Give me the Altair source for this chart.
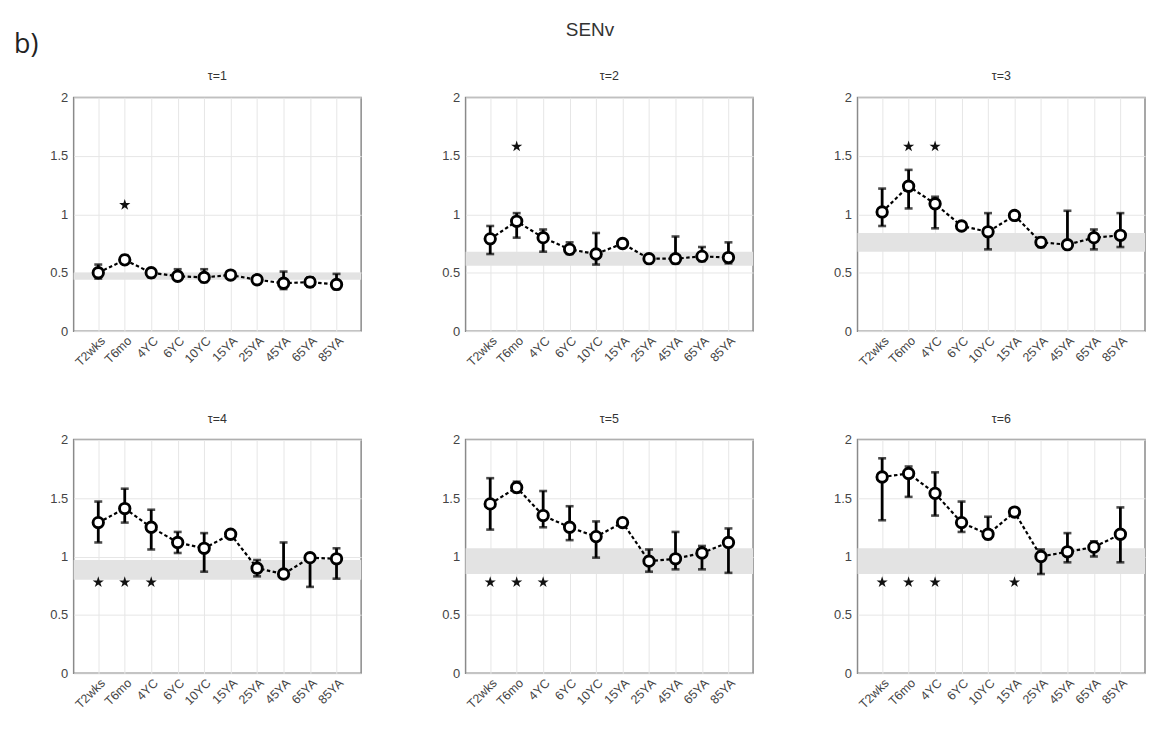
import altair as alt
import pandas as pd

groups = ["T2wks", "T6mo", "4YC", "6YC", "10YC", "15YA", "25YA", "45YA", "65YA", "85YA"]

mean_t1 = [0.50, 0.61, 0.50, 0.47, 0.46, 0.48, 0.44, 0.41, 0.42, 0.40]
high_t1 = [0.57, 0.65, 0.53, 0.53, 0.53, 0.50, 0.45, 0.51, 0.46, 0.49]
low_t1 = [0.45, 0.58, 0.46, 0.44, 0.42, 0.46, 0.42, 0.36, 0.38, 0.36]
band_t1 = [0.44, 0.50]
stars_t1 = ["T6mo"]
star_y_t1 = 1.08

mean_t2 = [0.79, 0.94, 0.80, 0.70, 0.66, 0.75, 0.62, 0.62, 0.64, 0.63]
high_t2 = [0.90, 1.01, 0.87, 0.76, 0.84, 0.77, 0.64, 0.81, 0.72, 0.76]
low_t2 = [0.66, 0.80, 0.68, 0.66, 0.57, 0.73, 0.60, 0.58, 0.60, 0.58]
band_t2 = [0.56, 0.68]
stars_t2 = ["T6mo"]
star_y_t2 = 1.58

mean_t3 = [1.02, 1.24, 1.09, 0.90, 0.85, 0.99, 0.76, 0.74, 0.80, 0.82]
high_t3 = [1.22, 1.38, 1.15, 0.93, 1.01, 1.01, 0.80, 1.03, 0.87, 1.01]
low_t3 = [0.90, 1.05, 0.88, 0.88, 0.70, 0.97, 0.72, 0.72, 0.70, 0.72]
band_t3 = [0.68, 0.84]
stars_t3 = ["T6mo", "4YC"]
star_y_t3 = 1.58

mean_t4 = [1.29, 1.41, 1.25, 1.12, 1.07, 1.19, 0.90, 0.85, 0.99, 0.98]
high_t4 = [1.47, 1.58, 1.40, 1.21, 1.20, 1.21, 0.97, 1.12, 0.99, 1.07]
low_t4 = [1.12, 1.29, 1.06, 1.03, 0.87, 1.17, 0.83, 0.83, 0.74, 0.81]
band_t4 = [0.80, 0.97]
stars_t4 = ["T2wks", "T6mo", "4YC"]
star_y_t4 = 0.78

mean_t5 = [1.45, 1.59, 1.35, 1.25, 1.17, 1.29, 0.96, 0.98, 1.03, 1.12]
high_t5 = [1.67, 1.64, 1.56, 1.43, 1.30, 1.31, 1.06, 1.21, 1.09, 1.24]
low_t5 = [1.23, 1.55, 1.25, 1.14, 0.99, 1.27, 0.87, 0.89, 0.89, 0.86]
band_t5 = [0.85, 1.07]
stars_t5 = ["T2wks", "T6mo", "4YC"]
star_y_t5 = 0.78

mean_t6 = [1.68, 1.71, 1.54, 1.29, 1.19, 1.38, 1.00, 1.04, 1.08, 1.19]
high_t6 = [1.84, 1.77, 1.72, 1.47, 1.34, 1.40, 1.06, 1.20, 1.13, 1.42]
low_t6 = [1.31, 1.51, 1.35, 1.21, 1.15, 1.36, 0.85, 0.95, 1.00, 0.95]
band_t6 = [0.85, 1.07]
stars_t6 = ["T2wks", "T6mo", "4YC", "15YA"]
star_y_t6 = 0.78

panels = [
    (1, mean_t1, high_t1, low_t1, band_t1, stars_t1, star_y_t1),
    (2, mean_t2, high_t2, low_t2, band_t2, stars_t2, star_y_t2),
    (3, mean_t3, high_t3, low_t3, band_t3, stars_t3, star_y_t3),
    (4, mean_t4, high_t4, low_t4, band_t4, stars_t4, star_y_t4),
    (5, mean_t5, high_t5, low_t5, band_t5, stars_t5, star_y_t5),
    (6, mean_t6, high_t6, low_t6, band_t6, stars_t6, star_y_t6),
]

W = 289
H = 235
STAR = "M0,-1L0.2245,-0.309L0.951,-0.309L0.363,0.118L0.588,0.809L0,0.382L-0.588,0.809L-0.363,0.118L-0.951,-0.309L-0.2245,-0.309Z"

xscale = alt.Scale(type="point", domain=groups, padding=0.93)
yscale = alt.Scale(domain=[0, 2], nice=False, zero=False)

xaxis = alt.Axis(title=None, labelAngle=-45, labelAlign="right", labelBaseline="top",
                 labelFontSize=12.5, labelColor="#444", grid=True, gridColor="#e6e6e6",
                 ticks=False, domain=False, labelPadding=3, labelFont="Liberation Sans",
                 minExtent=42, maxExtent=42)
yaxis = alt.Axis(title=None, values=[0, 0.5, 1, 1.5, 2], format="~g", labelFontSize=13,
                 labelColor="#444", grid=True, gridColor="#e6e6e6", ticks=False, domain=False,
                 labelPadding=6, labelFont="Liberation Sans", minExtent=30, maxExtent=30)


def txt(s, x, y, size, color, font, align="center"):
    return alt.Chart(pd.DataFrame({"t": [s]})).mark_text(
        fontSize=size, align=align, baseline="alphabetic", color=color, font=font).encode(
        text="t:N", x=alt.value(x), y=alt.value(y))


def panel(tau, mean, high, low, band, stars, star_y):
    df = pd.DataFrame({"g": groups, "m": mean, "hi": high, "lo": low})
    bdf = pd.DataFrame({"b0": [band[0]], "b1": [band[1]]})
    sdf = pd.DataFrame({"g": stars, "y": [star_y] * len(stars)})
    base = alt.Chart(df)
    X = alt.X("g:N", scale=xscale, sort=groups)
    grid = base.mark_point(opacity=0).encode(
        x=alt.X("g:N", scale=xscale, axis=xaxis, sort=groups),
        y=alt.Y("m:Q", scale=yscale, axis=yaxis),
    )
    bandm = alt.Chart(bdf).mark_rect(color="#e3e3e3").encode(
        x=alt.value(0), x2=alt.value(W),
        y=alt.Y("b0:Q", scale=yscale), y2="b1:Q",
    )
    line = base.mark_line(color="black", strokeWidth=2.2, strokeDash=[3.5, 2.5]).encode(
        x=X, y=alt.Y("m:Q", scale=yscale))
    err = base.mark_rule(color="black", strokeWidth=2.8).encode(
        x=X, y=alt.Y("lo:Q", scale=yscale), y2="hi:Q")
    caphi = base.mark_tick(color="black", size=8, thickness=2.6, orient="horizontal").encode(
        x=X, y=alt.Y("hi:Q", scale=yscale))
    caplo = base.mark_tick(color="black", size=8, thickness=2.6, orient="horizontal").encode(
        x=X, y=alt.Y("lo:Q", scale=yscale))
    pts = base.mark_point(shape="circle", filled=True, fill="white", stroke="black",
                          strokeWidth=2.9, size=110, opacity=1).encode(
        x=X, y=alt.Y("m:Q", scale=yscale))
    st = alt.Chart(sdf).mark_point(shape=STAR, filled=True, color="#111", size=140, opacity=1).encode(
        x=X, y=alt.Y("y:Q", scale=yscale))
    layers = [grid, bandm, line, err, caphi, caplo, pts, st,
              txt(f"τ={tau}", W / 2, -17, 12.5, "#333", "Liberation Sans")]
    if tau == 1:
        layers.append(txt("b)", -60, -45, 27, "#222", "Open Sans", align="left"))
    if tau == 2:
        layers.append(txt("SENv", 125, -62, 19, "#333", "Liberation Sans"))
    return alt.layer(*layers).properties(width=W, height=H)


charts = [panel(*p) for p in panels]
row1 = alt.hconcat(*charts[:3], spacing=73)
row2 = alt.hconcat(*charts[3:], spacing=73)
chart = alt.vconcat(row1, row2, spacing=38).properties(
    padding={"left": 5, "top": 10, "right": 0, "bottom": 2},
).configure_view(stroke="#8a8a8a", strokeWidth=1.5)

chart.save("out.html", embed_options={"renderer": "svg", "actions": False})
